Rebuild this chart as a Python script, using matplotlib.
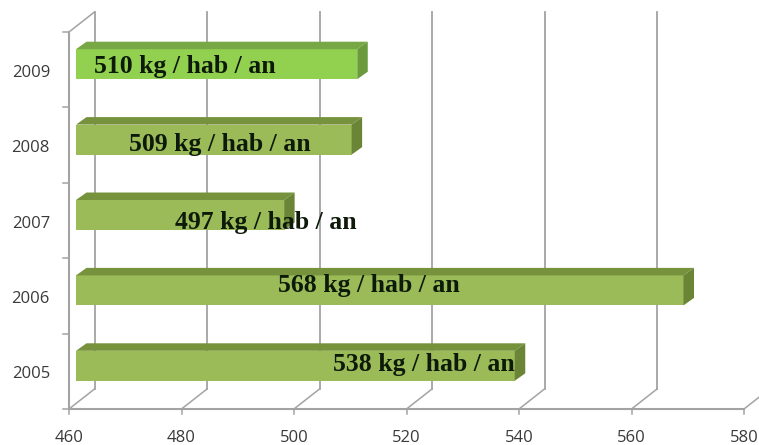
#!/usr/bin/env python3
import matplotlib
matplotlib.use('Agg')
import matplotlib.pyplot as plt

years = ['2005', '2006', '2007', '2008', '2009']
values = [538, 568, 497, 509, 510]
bar_colors = ['#9bbb59', '#9bbb59', '#9bbb59', '#9bbb59', '#92d050']
top_colors = ['#76923c', '#76923c', '#76923c', '#76923c', '#78a846']
side_colors = ['#6b8536', '#6b8536', '#6b8536', '#6b8536', '#6b9a3c']
labels = ['538 kg / hab / an', '568 kg / hab / an', '497 kg / hab / an',
          '509 kg / hab / an', '510 kg / hab / an']
# left edge of each label in axis units, and its shift from the category in px
label_left = [506.9, 497.2, 478.8, 470.7, 464.4]
label_shift = [7, 10, -2, 1, 3]
x_ticks = [460, 480, 500, 520, 540, 560, 580]

W, H = 759, 445
X0_PX, X_SCALE = 69, 5.625        # 460 position, px per unit
Y0_PX, Y_SCALE = 409, 75.4        # baseline position, px per category
px_x = 1 / X_SCALE
px_y = 1 / Y_SCALE

GRID = '#a3a3a3'
TEXT = '#3a3a3a'

fig = plt.figure(figsize=(W / 100, H / 100), dpi=100)
ax = fig.add_axes([0, 0, 1, 1])
ax.set_xlim(460 - X0_PX * px_x, 460 + (W - X0_PX) * px_x)
ax.set_ylim(-0.5 - (H - Y0_PX) * px_y, -0.5 + Y0_PX * px_y)
ax.axis('off')

y_bottom, y_top = -0.5, len(years) - 0.5
depth_x, depth_y = 25.5 * px_x, 20 * px_y

# walls and gridlines
for t in x_ticks:
    ax.plot([t, t + depth_x], [y_bottom, y_bottom + depth_y], color=GRID, lw=1.1, zorder=1)
    ax.plot([t + depth_x, t + depth_x], [y_bottom + depth_y, y_top + depth_y],
            color=GRID, lw=1.3, zorder=1)
    ax.plot([t, t], [y_bottom, y_bottom - 5 * px_y], color=GRID, lw=1.1, zorder=1)
    ax.text(t, y_bottom - 29 * px_y, str(t), ha='center', va='center',
            fontsize=12, family='Open Sans', color=TEXT)

ax.plot([460, 460], [y_bottom, y_top], color=GRID, lw=1.5, zorder=2)
ax.plot([460, 580], [y_bottom, y_bottom], color=GRID, lw=1.5, zorder=2)
ax.plot([460, 460 + depth_x], [y_top, y_top + depth_y], color=GRID, lw=1.1, zorder=2)
for i in range(len(years) + 1):
    ax.plot([460 - 6 * px_x, 460], [i - 0.5, i - 0.5], color=GRID, lw=1.1, zorder=2)

# 3d bars: front, top and side faces
bar_h = 30 * px_y
for i, v in enumerate(values):
    x0 = 460 + 7 * px_x
    x1 = v + 7 * px_x
    y0 = i + 5.5 * px_y - bar_h / 2
    y1 = y0 + bar_h
    dx, dy = 10.5 * px_x, 7.5 * px_y
    ax.fill([x0, x1, x1, x0], [y0, y0, y1, y1], color=bar_colors[i], lw=0, zorder=3)
    ax.fill([x0, x1, x1 + dx, x0 + dx], [y1, y1, y1 + dy, y1 + dy],
            color=top_colors[i], lw=0, zorder=3)
    ax.fill([x1, x1 + dx, x1 + dx, x1], [y0, y0 + dy, y1 + dy, y1],
            color=side_colors[i], lw=0, zorder=3)
    ax.text(460 - 19 * px_x, i - 3 * px_y, years[i], ha='right', va='center',
            fontsize=12, family='Open Sans', color=TEXT, zorder=5)
    ax.text(label_left[i], i + label_shift[i] * px_y, labels[i], ha='left', va='center',
            fontsize=18.5, fontweight='bold', family='Liberation Serif',
            color='#0d1a0a', zorder=6)

fig.savefig('out.png', dpi=100, facecolor='white')
